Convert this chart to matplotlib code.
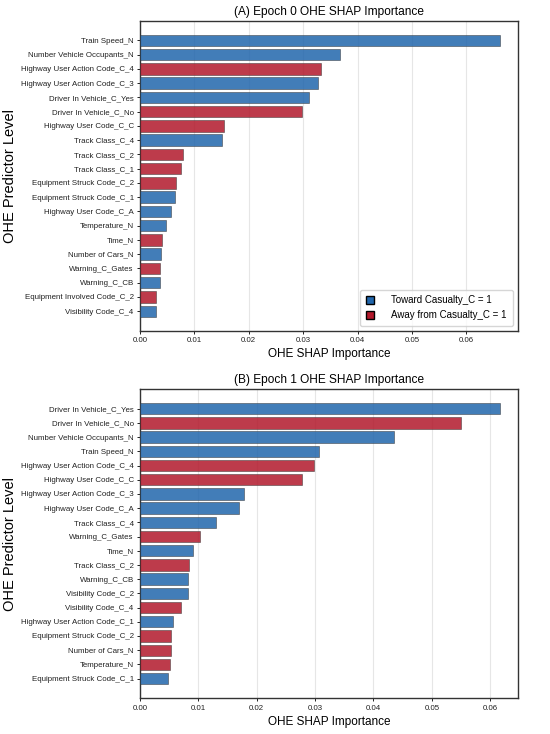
import numpy as np
import matplotlib.pyplot as plt
from matplotlib.patches import Patch

plt.rcParams['font.family'] = ['Liberation Sans', 'DejaVu Sans']

BLUE = '#2166ac'
RED = '#b2182b'

# Epoch 0 (sorted high -> low)
labels_e0 = [
    "Train Speed_N", "Number Vehicle Occupants_N", "Highway User Action Code_C_4",
    "Highway User Action Code_C_3", "Driver In Vehicle_C_Yes", "Driver In Vehicle_C_No",
    "Highway User Code_C_C", "Track Class_C_4", "Track Class_C_2", "Track Class_C_1",
    "Equipment Struck Code_C_2", "Equipment Struck Code_C_1", "Highway User Code_C_A",
    "Temperature_N", "Time_N", "Number of Cars_N", "Warning_C_Gates", "Warning_C_CB",
    "Equipment Involved Code_C_2", "Visibility Code_C_4",
]
values_e0 = [0.0661, 0.0368, 0.0333, 0.0328, 0.0310, 0.0297, 0.0154, 0.0150, 0.0079, 0.0075,
             0.0067, 0.0064, 0.0057, 0.0047, 0.0041, 0.0038, 0.0037, 0.0036, 0.0030, 0.0029]
toward_e0 = [1, 1, 0, 1, 1, 0, 0, 1, 0, 0, 0, 1, 1, 1, 0, 1, 0, 1, 0, 1]

# Epoch 1
labels_e1 = [
    "Driver In Vehicle_C_Yes", "Driver In Vehicle_C_No", "Number Vehicle Occupants_N",
    "Train Speed_N", "Highway User Action Code_C_4", "Highway User Code_C_C",
    "Highway User Action Code_C_3", "Highway User Code_C_A", "Track Class_C_4",
    "Warning_C_Gates", "Time_N", "Track Class_C_2", "Warning_C_CB", "Visibility Code_C_2",
    "Visibility Code_C_4", "Highway User Action Code_C_1", "Equipment Struck Code_C_2",
    "Number of Cars_N", "Temperature_N", "Equipment Struck Code_C_1",
]
values_e1 = [0.0616, 0.0550, 0.0435, 0.0307, 0.0298, 0.0278, 0.0179, 0.0169, 0.0130, 0.0102,
             0.0091, 0.0084, 0.0082, 0.0082, 0.0070, 0.0057, 0.0054, 0.0053, 0.0051, 0.0048]
toward_e1 = [1, 0, 1, 1, 0, 0, 1, 1, 1, 0, 1, 0, 1, 1, 0, 1, 0, 0, 0, 1]


def draw_panel(ax, labels, values, toward, title):
    y = np.arange(len(labels))
    colors = [BLUE if t else RED for t in toward]
    ax.barh(y, values, height=0.8, color=colors, alpha=0.85,
            edgecolor='#333333', linewidth=0.4, zorder=3)
    ax.set_yticks(y)
    ax.set_yticklabels(labels)
    ax.invert_yaxis()
    ax.set_xlim(0, max(values) * 1.05)
    ax.grid(axis='x', color='#e6e6e6', linewidth=0.8, zorder=0)
    ax.set_axisbelow(True)
    ax.tick_params(labelsize=5.7, length=2.5, width=0.7, colors='#222222', pad=2)
    for s in ax.spines.values():
        s.set_color('#333333')
        s.set_linewidth(1.0)
    ax.set_title(title, fontsize=8.6, pad=4)
    ax.set_xlabel("OHE SHAP Importance", fontsize=8.5, labelpad=3)
    ax.set_ylabel("OHE Predictor Level", fontsize=10.5, labelpad=3)


fig = plt.figure(figsize=(5.5, 7.34), dpi=100)
ax1 = fig.add_axes([0.2545, 0.549, 0.6865, 0.423])
ax2 = fig.add_axes([0.2545, 0.0486, 0.6865, 0.4214])

draw_panel(ax1, labels_e0, values_e0, toward_e0, "(A) Epoch 0 OHE SHAP Importance")
draw_panel(ax2, labels_e1, values_e1, toward_e1, "(B) Epoch 1 OHE SHAP Importance")

handles = [Patch(facecolor=BLUE, edgecolor='black', label="Toward Casualty_C = 1"),
           Patch(facecolor=RED, edgecolor='black', label="Away from Casualty_C = 1")]
ax1.legend(handles=handles, loc='lower right', fontsize=7, frameon=True,
           handlelength=0.8, handleheight=0.8, handletextpad=1.8, borderpad=0.6,
           edgecolor='#cccccc', fancybox=True)

fig.savefig("out.png", dpi=100)
